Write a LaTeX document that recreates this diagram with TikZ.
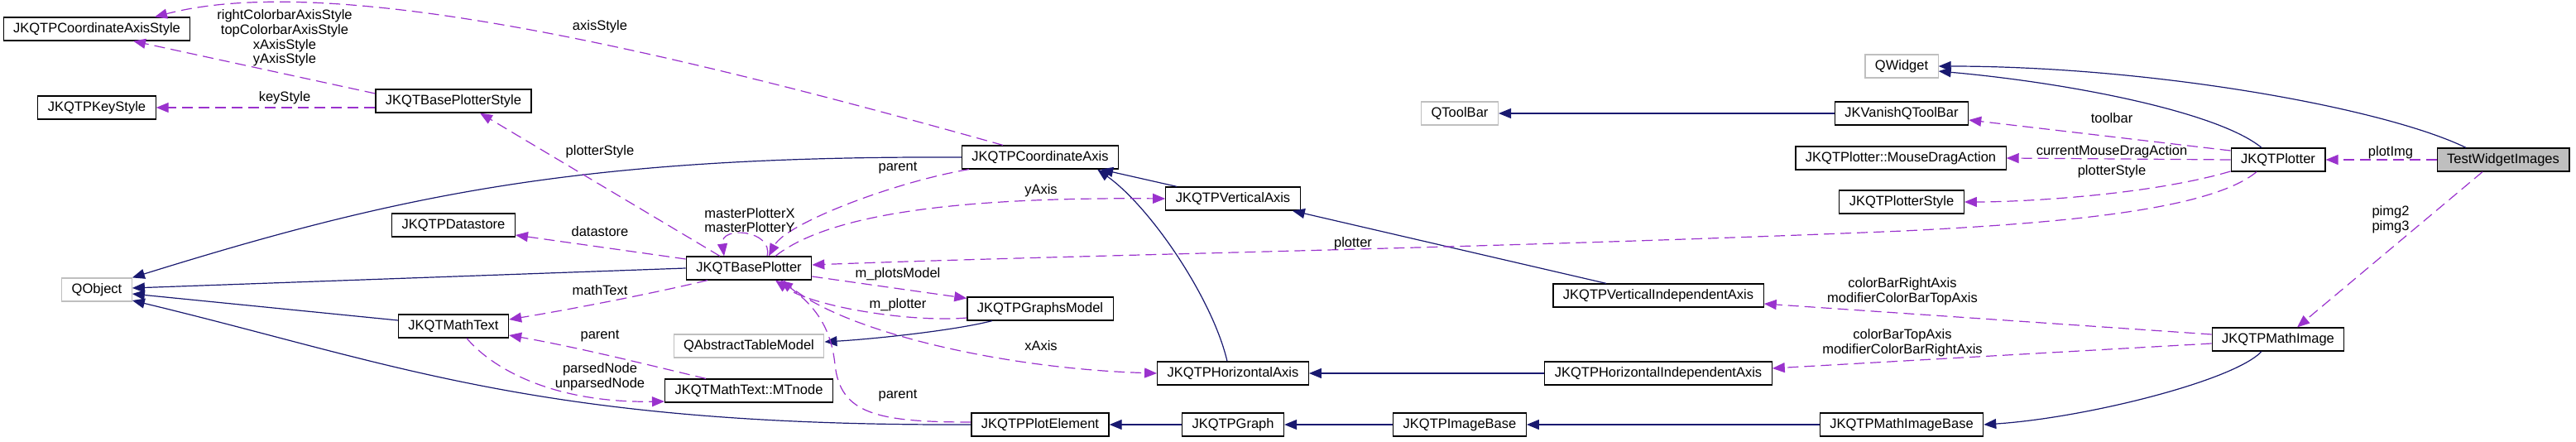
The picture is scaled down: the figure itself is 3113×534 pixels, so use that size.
\documentclass[tikz,border=0pt]{standalone}
\usepackage{fontspec}
\setmainfont{Liberation Sans}
\usetikzlibrary{arrows.meta}
\definecolor{edgeblue}{HTML}{191970}
\definecolor{edgepurple}{HTML}{9A32CD}
\definecolor{extgray}{HTML}{BFBFBF}

\begin{document}
\begin{tikzpicture}[x=1pt, y=-1pt,
  cls/.style={rectangle, draw=black, line width=1.2pt, fill=white,
    minimum height=28pt, inner xsep=12pt, inner ysep=0pt,
    font=\fontsize{16.5}{18}\selectfont},
  ext/.style={cls, draw=extgray},
  inh/.style={draw=edgeblue, line width=1.2pt, -{Triangle[length=15pt,width=12pt]}},
  use/.style={draw=edgepurple, line width=1.2pt, dash pattern=on 13pt off 7pt,
    -{Triangle[length=15pt,width=12pt]}},
  lbl/.style={font=\fontsize{16.5}{17.7}\selectfont, align=center, inner sep=0pt}]
  \useasboundingbox (0,0) rectangle (3113,534);

  % classes
  \node[cls] (cas) at (117,35) {JKQTPCoordinateAxisStyle};
  \node[cls] (keystyle) at (117,130) {JKQTPKeyStyle};
  \node[ext] (qobject) at (117,350) {QObject};
  \node[cls] (bps) at (548,122) {JKQTBasePlotterStyle};
  \node[cls] (datastore) at (548,272) {JKQTPDatastore};
  \node[cls] (mathtext) at (548,394) {JKQTMathText};
  \node[cls] (bp) at (905,324) {JKQTBasePlotter};
  \node[ext] (qatm) at (905,418) {QAbstractTableModel};
  \node[cls] (mtnode) at (905,472) {JKQTMathText::MTnode};
  \node[cls] (caxis) at (1257,190) {JKQTPCoordinateAxis};
  \node[cls] (gmodel) at (1257,373) {JKQTPGraphsModel};
  \node[cls] (pelem) at (1257,513) {JKQTPPlotElement};
  \node[cls] (vaxis) at (1490,240) {JKQTPVerticalAxis};
  \node[cls] (haxis) at (1490,451) {JKQTPHorizontalAxis};
  \node[cls] (graph) at (1490,513) {JKQTPGraph};
  \node[ext] (qtoolbar) at (1764,137) {QToolBar};
  \node[cls] (imgbase) at (1764,513) {JKQTPImageBase};
  \node[cls] (viaxis) at (2004,357) {JKQTPVerticalIndependentAxis};
  \node[cls] (hiaxis) at (2004,451) {JKQTPHorizontalIndependentAxis};
  \node[ext] (qwidget) at (2298,80) {QWidget};
  \node[cls] (vanish) at (2298,137) {JKVanishQToolBar};
  \node[cls] (mdrag) at (2297,191) {JKQTPlotter::MouseDragAction};
  \node[cls] (pstyle) at (2298,244) {JKQTPlotterStyle};
  \node[cls] (mibase) at (2298,513) {JKQTPMathImageBase};
  \node[cls] (plotter) at (2753,193) {JKQTPlotter};
  \node[cls] (mimage) at (2753,410) {JKQTPMathImage};
  \node[cls, fill=extgray] (twi) at (3025,193) {TestWidgetImages};

  % inheritance
  \draw[inh] (caxis.west) .. controls (700,188) and (480,236) .. (qobject.north east);
  \draw[inh] (bp.west) -- ([yshift=2pt]qobject.east);
  \draw[inh] ([yshift=7pt]mathtext.west) -- ([yshift=-5pt]qobject.east);
  \draw[inh] (pelem.west) .. controls (650,515) and (480,440) .. ([yshift=-13pt]qobject.east);
  \draw[inh] ([xshift=-58pt]gmodel.south) .. controls (1150,400) and (1050,410) .. ([yshift=5pt]qatm.east);
  \draw[inh] ([xshift=14pt]vaxis.north west) -- ([xshift=-22pt]caxis.south east);
  \draw[inh] ([xshift=-7pt]haxis.north) .. controls (1465,360) and (1390,250) .. ([xshift=-26pt]caxis.south east);
  \draw[inh] ([xshift=-63pt]viaxis.north) -- ([xshift=-10pt]vaxis.south east);
  \draw[inh] (hiaxis.west) -- (haxis.east);
  \draw[inh] (graph.west) -- (pelem.east);
  \draw[inh] (imgbase.west) -- (graph.east);
  \draw[inh] (mibase.west) -- (imgbase.east);
  \draw[inh] ([xshift=-20pt]mimage.south) .. controls (2700,460) and (2520,505) .. (mibase.east);
  \draw[inh] (vanish.west) -- (qtoolbar.east);
  \draw[inh] ([xshift=-20pt]plotter.north) .. controls (2680,135) and (2500,100) .. ([yshift=-6pt]qwidget.east);
  \draw[inh] ([xshift=-45pt]twi.north) .. controls (2880,130) and (2600,80) .. (qwidget.east);

  % members
  \draw[use] ([yshift=9pt]bps.west) -- ([xshift=44pt]cas.south);
  \draw[use] ([xshift=-45pt]caxis.north) .. controls (800,60) and (400,-35) .. ([xshift=70pt]cas.north);
  \draw[use] ([yshift=-8pt]bps.west) -- (keystyle.east);
  \draw[use] ([xshift=-35pt]bp.north) -- ([xshift=32pt]bps.south);
  \draw[use] ([yshift=11pt]bp.west) -- ([yshift=-12pt]datastore.east);
  \draw[use] ([xshift=-50pt]bp.south) .. controls (800,352) and (700,372) .. ([yshift=8pt]mathtext.east);
  \draw[use] ([xshift=-52pt]mtnode.north) .. controls (780,440) and (700,420) .. ([yshift=-11pt]mathtext.east);
  \draw[use] ([xshift=16pt]mathtext.south) .. controls (590,440) and (660,487) .. ([yshift=-13pt]mtnode.west);
  \draw[use] ([xshift=22pt]bp.north) .. controls (935,278) and (870,272) .. ([xshift=-30pt]bp.north);
  \draw[use] ([xshift=-86pt]caxis.south) .. controls (1080,220) and (950,270) .. ([xshift=24pt]bp.north);
  \draw[use] ([xshift=32pt]bp.north) .. controls (1000,260) and (1150,238) .. (vaxis.west);
  \draw[use] ([xshift=-26pt]plotter.south) .. controls (2670,255) and (2480,270) .. (2300,279)
    .. controls (1800,300) and (1300,308) .. ([yshift=4pt]bp.east);
  \draw[use] ([yshift=-10pt]bp.east) -- ([yshift=-2pt]gmodel.north west);
  \draw[use] ([yshift=-11pt]gmodel.west) .. controls (1100,390) and (980,370) .. ([xshift=32pt]bp.south);
  \draw[use] ([xshift=42pt]bp.south) .. controls (1000,395) and (1200,445) .. (haxis.west);
  \draw[use] ([yshift=3pt]pelem.west) .. controls (1060,510) and (1015,500) .. (1009,440)
    .. controls (1004,395) and (985,370) .. ([xshift=38pt]bp.south);
  \draw[use] ([yshift=11pt]plotter.west) -- ([yshift=-8pt]vanish.east);
  \draw[use] (plotter.west) -- (mdrag.east);
  \draw[use] ([yshift=-14pt]plotter.west) .. controls (2600,235) and (2450,244) .. (pstyle.east);
  \draw[use] (twi.west) -- (plotter.east);
  \draw[use] ([xshift=-25pt]twi.south) -- ([xshift=23pt]mimage.north);
  \draw[use] ([yshift=6pt]mimage.west) -- ([yshift=-10pt]viaxis.east);
  \draw[use] ([yshift=-5pt]mimage.west) -- ([yshift=6pt]hiaxis.east);

  % member names
  \node[lbl] (lcolstyle) at (344,46) {rightColorbarAxisStyle\\topColorbarAxisStyle\\xAxisStyle\\yAxisStyle};
  \node[lbl] (laxisstyle) at (725,32) {axisStyle};
  \node[lbl] (lkeystyle) at (344,118) {keyStyle};
  \node[lbl] (lpstyle) at (725,183) {plotterStyle};
  \node[lbl] (ldatastore) at (725,280) {datastore};
  \node[lbl] (lmathtext) at (725,351) {mathText};
  \node[lbl] (lmtparent) at (725,406) {parent};
  \node[lbl] (lnodes) at (725,455) {parsedNode\\unparsedNode};
  \node[lbl] (lmaster) at (906,266) {masterPlotterX\\masterPlotterY};
  \node[lbl] (lcaparent) at (1085,203) {parent};
  \node[lbl] (lyaxis) at (1258,230) {yAxis};
  \node[lbl] (lplotsmodel) at (1085,331) {m\_plotsModel};
  \node[lbl] (lmplotter) at (1085,368) {m\_plotter};
  \node[lbl] (lxaxis) at (1258,418) {xAxis};
  \node[lbl] (lpeparent) at (1085,478) {parent};
  \node[lbl] (lplotter) at (1635,294) {plotter};
  \node[lbl] (ltoolbar) at (2552,143) {toolbar};
  \node[lbl] (ldrag) at (2552,183) {currentMouseDragAction};
  \node[lbl] (lpstyle2) at (2552,207) {plotterStyle};
  \node[lbl] (lplotimg) at (2889,184) {plotImg};
  \node[lbl] (lpimg) at (2889,265) {pimg2\\pimg3};
  \node[lbl] (lcbright) at (2299,352) {colorBarRightAxis\\modifierColorBarTopAxis};
  \node[lbl] (lcbtop) at (2299,414) {colorBarTopAxis\\modifierColorBarRightAxis};
\end{tikzpicture}
\end{document}
